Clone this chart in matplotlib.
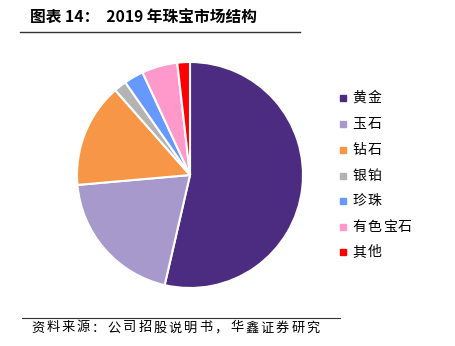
import matplotlib
matplotlib.use("Agg")
import matplotlib.pyplot as plt
from matplotlib.lines import Line2D

plt.rcParams['font.family'] = ['Noto Sans CJK SC', 'DejaVu Sans']

categories = ['黄金', '玉石', '钻石', '银铂', '珍珠', '有色宝石', '其他']
values = [53.6, 20.0, 14.9, 1.8, 2.8, 5.1, 1.8]
colors = ['#4B2C80', '#A899CC', '#F79646', '#B3B3B3', '#6699FF', '#FF99CC', '#FF0000']
title = '图表 14：  2019 年珠宝市场结构'
source = '资料来源：公司招股说明书，华鑫证券研究'

fig = plt.figure(figsize=(4.55, 3.46), dpi=100)
W, H = 455, 346

R = 113
ax = fig.add_axes([(190 - R) / W, 1 - (175 + R) / H, 2 * R / W, 2 * R / H])
ax.pie(values, colors=colors, startangle=90, counterclock=False, radius=1,
       wedgeprops=dict(edgecolor='white', linewidth=1.5))
ax.set_xlim(-1, 1)
ax.set_ylim(-1, 1)
ax.set_aspect('equal')
ax.axis('off')

# title
fig.text(30 / W, 1 - 18 / H, title, fontsize=11.3,
         fontweight='bold', va='center', ha='left')
fig.add_artist(Line2D([20 / W, 300 / W], [1 - 32 / H, 1 - 32 / H], color='#333333', lw=1.0))


def spaced(x0, y, s, pitch, size):
    for i, ch in enumerate(s):
        fig.text((x0 + i * pitch + pitch / 2) / W, 1 - y / H, ch, fontsize=size,
                 va='center', ha='center')


# footer
fig.add_artist(Line2D([22 / W, 340 / W], [1 - 318 / H, 1 - 318 / H], color='#333333', lw=0.8))
spaced(30, 328, source, 15.3, 9.5)

# legend
ys = [98, 124, 150, 176, 201, 227, 252]
for lab, col, y in zip(categories, colors, ys):
    fig.patches.append(plt.Rectangle(((343 - 3) / W, 1 - (y + 3) / H), 6 / W, 6 / H,
                                     transform=fig.transFigure, color=col, figure=fig))
    spaced(352, y, lab, 15, 10)

fig.savefig('out.png', dpi=100)
